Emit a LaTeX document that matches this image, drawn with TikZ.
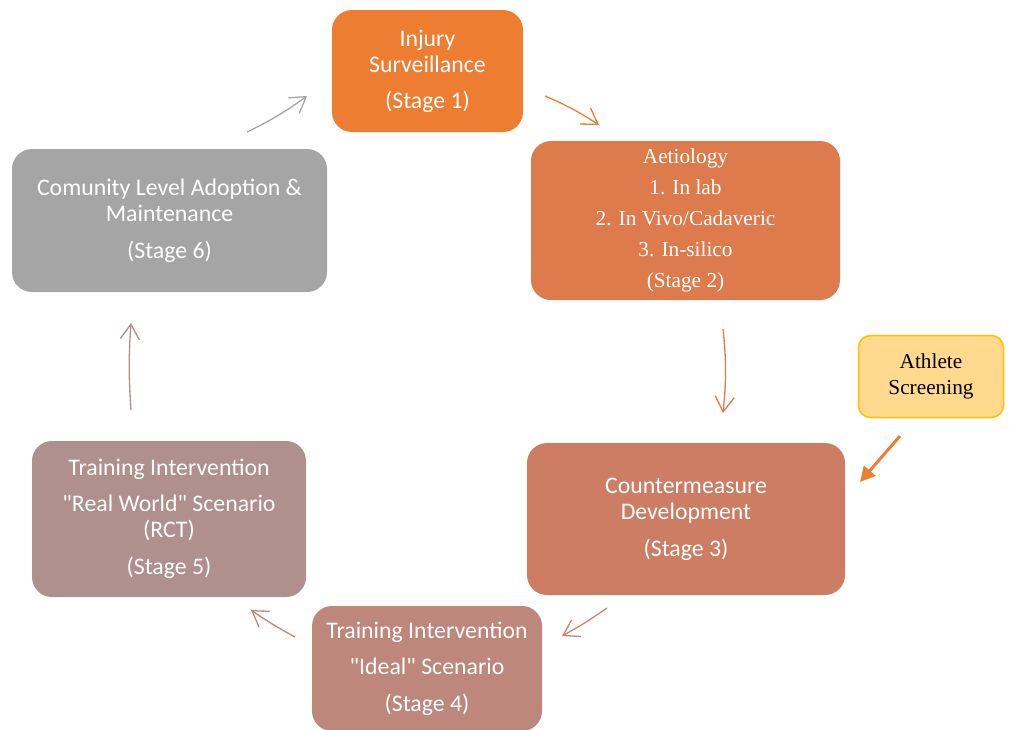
\documentclass[tikz,border=0pt]{standalone}
\usepackage{fontspec}
\setmainfont{Liberation Serif}
\newfontfamily\calibfont[Ligatures=TeXOff]{Carlito}
\usepackage{tikz}
\usetikzlibrary{arrows.meta,positioning,calc}
\definecolor{stageone}{HTML}{ED7D31}
\definecolor{stagetwo}{HTML}{DD7B4C}
\definecolor{stagethree}{HTML}{CD7D64}
\definecolor{stagefour}{HTML}{BD877B}
\definecolor{stagefive}{HTML}{AF908C}
\definecolor{stagesix}{HTML}{A5A5A5}
\definecolor{athletefill}{HTML}{FFD98E}
\definecolor{athleteline}{HTML}{FFC000}

\begin{document}
\begin{tikzpicture}
[x=1pt,y=-1pt,
stagebox/.style={rounded corners=20pt,inner sep=0pt,align=center,text=white},
sansbox/.style={stagebox,font={\calibfont\fontsize{23.8}{26}\selectfont}},
serifbox/.style={stagebox,font={\fontsize{21.3}{31}\selectfont}},
conn/.style={line width=1.3pt,-{Straight Barb[length=15pt,width=19pt,line width=1.3pt]}}]
\useasboundingbox (0,0) rectangle (1009,729);
\node[sansbox,fill=stageone,minimum width=191pt,minimum height=122pt] (s1) at (427.5,71) {Injury\\Surveillance\\[10pt](Stage 1)};
\node[serifbox,fill=stagetwo,minimum width=309pt,minimum height=159pt] (s2) at (685.5,220.5) {Aetiology\\1. In lab\\2. In Vivo/Cadaveric\\3. In-silico\\(Stage 2)};
\node[sansbox,fill=stagethree,minimum width=318pt,minimum height=152pt] (s3) at (686,519) {Countermeasure\\Development\\[11pt](Stage 3)};
\node[sansbox,fill=stagefour,minimum width=230pt,minimum height=125pt] (s4) at (427,668.5) {Training Intervention\\[10pt]"Ideal" Scenario\\[11pt](Stage 4)};
\node[sansbox,fill=stagefive,minimum width=274pt,minimum height=156pt] (s5) at (169,519) {Training Intervention\\[10pt]"Real World" Scenario\\(RCT)\\[11pt](Stage 5)};
\node[sansbox,fill=stagesix,minimum width=315pt,minimum height=143pt] (s6) at (169.5,220.5) {Comunity Level Adoption \&\\Maintenance\\[11pt](Stage 6)};
\node[stagebox,text=black,font={\fontsize{21.3}{26}\selectfont},fill=athletefill,draw=athleteline,line width=1.5pt,rounded corners=12pt,minimum width=145pt,minimum height=82pt] (ath) at (931,376.5) {Athlete\\Screening};
\coordinate (s6out) at (247,132);
\coordinate (s1in) at (307,96);
\coordinate (s1out) at (545,96);
\coordinate (s2in) at (599,125);
\coordinate (s2out) at (723,329);
\coordinate (s3in) at (723,413);
\coordinate (athout) at (900,436);
\coordinate (athin) at (860,482);
\coordinate (s3out) at (607,608);
\coordinate (s4in) at (562,636);
\coordinate (s4out) at (295,637);
\coordinate (s5in) at (251,610);
\coordinate (s5out) at (131,410);
\coordinate (s6in) at (131,323);
\draw[conn,draw=stagesix] (s6out) to[bend right=5] (s1in);
\draw[conn,draw=stageone] (s1out) to[bend left=5] (s2in);
\draw[conn,draw=stagetwo] (s2out) to[bend left=6] (s3in);
\draw[conn,draw=stagethree!95!white] (s3out) to[bend left=3] (s4in);
\draw[conn,draw=stagefour!90!stagethree] (s4out) to[bend left=3] (s5in);
\draw[conn,draw=stagefive] (s5out) to[bend left=4] (s6in);
\draw[line width=3pt,draw=stageone,-{Triangle[length=15pt,width=15pt]}] (athout) -- (athin);
\end{tikzpicture}
\end{document}
